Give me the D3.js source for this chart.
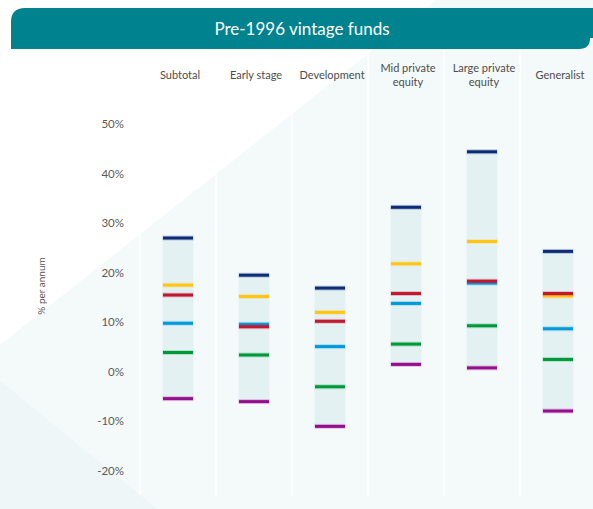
<!DOCTYPE html>
<html>
<head>
<meta charset="utf-8">
<script src="https://cdn.jsdelivr.net/npm/d3@7/dist/d3.min.js"></script>
<style>
  body { margin: 0; background: #fff; }
  svg { display: block; font-family: Lato, "Noto Sans", sans-serif; }
</style>
</head>
<body>
<svg id="chart" width="593" height="509"></svg>
<script>
// categories and the six markers (% per annum)
const categories = ['Subtotal', 'Early stage', 'Development', 'Mid private equity', 'Large private equity', 'Generalist'];
const catLabels = [['Subtotal'], ['Early stage'], ['Development'], ['Mid private', 'equity'], ['Large private', 'equity'], ['Generalist']];

const navyVals   = [27.0, 19.5, 16.9, 33.2, 44.4, 24.3];
const yellowVals = [17.5, 15.2, 12.0, 21.8, 26.3, 15.3];
const redVals    = [15.5,  9.1, 10.2, 15.8, 18.3, 15.8];
const blueVals   = [ 9.8,  9.6,  5.1, 13.8, 17.9,  8.7];
const greenVals  = [ 3.9,  3.4, -3.0,  5.6,  9.3,  2.5];
const purpleVals = [-5.4, -6.0, -11.0, 1.5,  0.8, -7.9];

const yTicks = [-20, -10, 0, 10, 20, 30, 40, 50];

const series = [
  { key: 'navy',   vals: navyVals,   color: '#0c2c78' },
  { key: 'purple', vals: purpleVals, color: '#970e8d' },
  { key: 'green',  vals: greenVals,  color: '#00993a' },
  { key: 'blue',   vals: blueVals,   color: '#0099d9' },
  { key: 'yellow', vals: yellowVals, color: '#ffc515' },
  { key: 'red',    vals: redVals,    color: '#c1172f' },
];

const svg = d3.select('#chart');

/*=== background shapes ===*/
svg.append('polygon')
  .attr('points', '0,345 436,0 593,0 593,509 0,509')
  .attr('fill', '#f4f9fa');
svg.append('polygon')
  .attr('points', '0,381 157,509 0,509')
  .attr('fill', '#eef6f7');

/*=== title banner (rounded top-left and bottom-right) ===*/
const bx0 = 11, by0 = 8, bx1 = 590, by1 = 49, r1 = 14, r2 = 11;
svg.append('path')
  .attr('d', `M${bx0},${by1} V${by0 + r1} Q${bx0},${by0} ${bx0 + r1},${by0} H593 V${by1 - r2} H${bx1} Q${bx1},${by1} ${bx1 - r2},${by1} Z`)
  .attr('fill', '#00828f');
svg.append('text')
  .attr('x', 302).attr('y', 35)
  .attr('text-anchor', 'middle')
  .attr('fill', '#fff')
  .attr('font-size', 17)
  .text('Pre-1996 vintage funds');

/*=== scales ===*/
const xScale = d3.scaleBand()
  .domain(categories)
  .range([140, 596])
  .padding(0);
const yScale = d3.scaleLinear()
  .domain([-20, 50])
  .range([471, 124]);

const barW = 31;
const cx = c => xScale(c) + xScale.bandwidth() / 2;

// column separators
svg.selectAll('.sep')
  .data(categories)
  .enter().append('line')
  .attr('class', 'sep')
  .attr('x1', d => xScale(d)).attr('x2', d => xScale(d))
  .attr('y1', 50).attr('y2', 495)
  .attr('stroke', '#fff')
  .attr('stroke-width', 1.5);

// y tick labels
svg.selectAll('.ytick')
  .data(yTicks)
  .enter().append('text')
  .attr('class', 'ytick')
  .attr('x', 124)
  .attr('y', d => yScale(d))
  .attr('dy', '0.35em')
  .attr('text-anchor', 'end')
  .attr('fill', '#5a5a5a')
  .attr('font-size', 11.5)
  .text(d => d + '%');

// axis title
svg.append('text')
  .attr('transform', 'translate(45,286) rotate(-90)')
  .attr('text-anchor', 'middle')
  .attr('fill', '#555')
  .attr('font-size', 10)
  .text('% per annum');

// category labels
const labs = svg.selectAll('.cat')
  .data(categories)
  .enter().append('text')
  .attr('class', 'cat')
  .attr('text-anchor', 'middle')
  .attr('fill', '#4d4d4d')
  .attr('font-size', 11)
  .attr('x', d => cx(d) + 2);
labs.each(function(d, i) {
  const lines = catLabels[i];
  const y0 = lines.length === 1 ? 79 : 72;
  d3.select(this).selectAll('tspan')
    .data(lines)
    .enter().append('tspan')
    .attr('x', cx(d) + 2)
    .attr('y', (t, j) => y0 + j * 14)
    .text(t => t);
});

// range boxes (top marker to bottom marker)
svg.selectAll('.box')
  .data(categories)
  .enter().append('rect')
  .attr('class', 'box')
  .attr('x', d => cx(d) - barW / 2)
  .attr('width', barW)
  .attr('y', (d, i) => yScale(navyVals[i]))
  .attr('height', (d, i) => yScale(purpleVals[i]) - yScale(navyVals[i]))
  .attr('fill', '#e4f1f3');

// markers
series.forEach(s => {
  const g = svg.append('g').attr('class', 'mark-' + s.key);
  g.selectAll('.halo')
    .data(categories)
    .enter().append('line')
    .attr('x1', d => cx(d) - barW / 2).attr('x2', d => cx(d) + barW / 2)
    .attr('y1', (d, i) => yScale(s.vals[i])).attr('y2', (d, i) => yScale(s.vals[i]))
    .attr('stroke', s.color)
    .attr('stroke-opacity', 0.22)
    .attr('stroke-width', 5);
  g.selectAll('.mk')
    .data(categories)
    .enter().append('line')
    .attr('x1', d => cx(d) - barW / 2 + 0.5).attr('x2', d => cx(d) + barW / 2 - 0.5)
    .attr('y1', (d, i) => yScale(s.vals[i])).attr('y2', (d, i) => yScale(s.vals[i]))
    .attr('stroke', s.color)
    .attr('stroke-width', 3);
});
</script>
</body>
</html>
